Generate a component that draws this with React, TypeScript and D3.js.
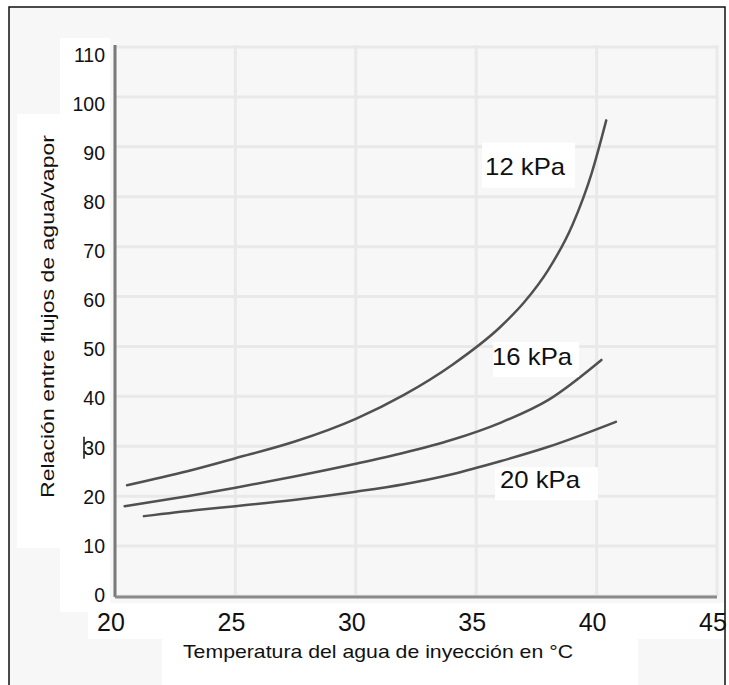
import React from "react";
import { scaleLinear, line, curveMonotoneX } from "d3";

// temperature ticks (x) and ratio ticks (y)
const xTicks = [20, 25, 30, 35, 40, 45];
const yTicks = [0, 10, 20, 30, 40, 50, 60, 70, 80, 90, 100, 110];

// series: [temperature °C, ratio]
const kpa12 = [
  [20.5, 22.2], [23, 25], [25, 27.6], [27.5, 31], [30, 35.5], [32, 40.3],
  [34, 46.3], [36, 53.9], [37, 58.9], [38, 65.4], [39, 74.4], [39.8, 84.8], [40.4, 95.3],
];
const kpa16 = [
  [20.4, 18], [23, 20], [25, 21.7], [27.5, 24], [30, 26.5], [32, 28.7],
  [34, 31.3], [36, 34.7], [38, 39.3], [40.2, 47.3],
];
const kpa20 = [
  [21.2, 16], [23.5, 17.3], [25, 18], [27.5, 19.3], [30, 20.9], [32, 22.4],
  [34, 24.4], [36, 27], [38, 29.9], [40.8, 34.9],
];

const seriesNames = ["12 kPa", "16 kPa", "20 kPa"];
// where each label sits, in data units (left edge, baseline)
const labelPos = [
  [35.37, 84.4],
  [35.66, 46.3],
  [35.99, 21.6],
];

const W = 729;
const H = 685;
const font = "'Liberation Sans', Arial, sans-serif";

export default function App() {
  const x = scaleLinear().domain([20, 45]).range([115, 717]);
  const y = scaleLinear().domain([0, 110]).range([596, 47]);
  // the tick text in the scan drifts a little from the grid
  const yLab = scaleLinear().domain([0, 110]).range([595, 55]);

  const path = line<number[]>()
    .x((d) => x(d[0]))
    .y((d) => y(d[1]))
    .curve(curveMonotoneX);

  const series = [kpa12, kpa16, kpa20];
  // white patch behind each label: [dx, dy, w, h] relative to text start/baseline
  const boxes = [
    [-3, -32, 93, 45],
    [1, -23, 86, 35],
    [-5, -21, 103, 33],
  ];

  return (
    <svg
      width={W}
      height={H}
      style={{ position: "absolute", left: 0, top: 0 }}
      fontFamily={font}
    >
      <rect width={W} height={H} fill="#fff" />
      {/* frame */}
      <rect x={9} y={7} width={716} height={H} fill="#f7f7f7" stroke="#111" strokeWidth={1.5} />

      {/* white patches of the scan */}
      <rect x={60} y={38} width={50} height={574} fill="#fff" />
      <rect x={17} y={114} width={44} height={434} fill="#fff" />
      <rect x={88} y={603} width={636} height={36} fill="#fff" />
      <rect x={162} y={639} width={476} height={46} fill="#fff" />

      {/* grid */}
      {yTicks.map((t) => (
        <line
          key={"gy" + t}
          x1={x(20)}
          x2={x(45)}
          y1={y(t)}
          y2={y(t)}
          stroke="#e9e9e9"
          strokeWidth={3}
        />
      ))}
      {xTicks.map((t) => (
        <line
          key={"gx" + t}
          x1={x(t)}
          x2={x(t)}
          y1={y(110) - 2}
          y2={y(0)}
          stroke="#e9e9e9"
          strokeWidth={3}
        />
      ))}

      {/* axes */}
      <line x1={x(20)} x2={x(20)} y1={y(110) - 2} y2={y(0) + 1} stroke="#7a7a7a" strokeWidth={3} />
      <line x1={x(20)} x2={x(45)} y1={y(0) + 1} y2={y(0) + 1} stroke="#8a8a8a" strokeWidth={3} />

      {/* y tick labels */}
      {yTicks.map((t) => (
        <text
          key={"ty" + t}
          x={105}
          y={yLab(t)}
          dy="0.35em"
          textAnchor="end"
          fontSize={19.5}
          fill="#111"
        >
          {t}
        </text>
      ))}
      {/* stray cursor mark by the 30 */}
      <line x1={84} x2={84} y1={yLab(30) - 11} y2={yLab(30) + 11} stroke="#111" strokeWidth={1.5} />

      {/* x tick labels */}
      {xTicks.map((t) => (
        <text
          key={"tx" + t}
          x={x(t) - 4}
          y={631}
          textAnchor="middle"
          fontSize={25}
          fill="#111"
        >
          {t}
        </text>
      ))}

      {/* axis titles */}
      <text x={183} y={658} fontSize={18.5} textLength={390} lengthAdjust="spacingAndGlyphs" fill="#111">
        Temperatura del agua de inyección en °C
      </text>
      <text
        transform="translate(54,498) rotate(-90)"
        fontSize={19}
        textLength={363}
        lengthAdjust="spacingAndGlyphs"
        fill="#111"
      >
        Relación entre flujos de agua/vapor
      </text>

      {/* curves */}
      {series.map((s, i) => (
        <path
          key={"s" + i}
          d={path(s) || ""}
          fill="none"
          stroke="#505050"
          strokeWidth={2.5}
          strokeLinecap="round"
        />
      ))}

      {/* curve labels */}
      {seriesNames.map((n, i) => {
        const tx = x(labelPos[i][0]);
        const ty = y(labelPos[i][1]);
        const b = boxes[i];
        return (
          <g key={n}>
            <rect x={tx + b[0]} y={ty + b[1]} width={b[2]} height={b[3]} fill="#fff" />
            <text x={tx} y={ty} fontSize={24} textLength={80} lengthAdjust="spacingAndGlyphs" fill="#111">
              {n}
            </text>
          </g>
        );
      })}
    </svg>
  );
}
